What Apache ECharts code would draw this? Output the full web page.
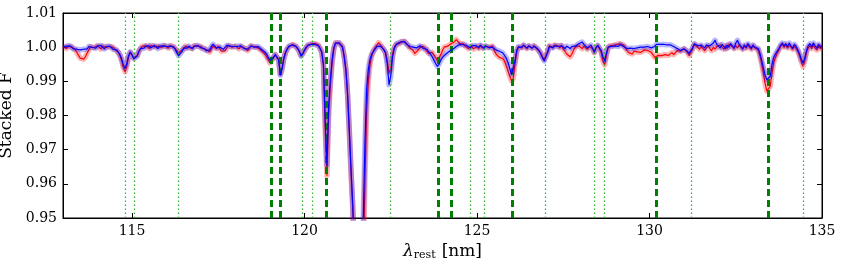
<!DOCTYPE html>
<html><head><meta charset="utf-8">
<script src="https://cdn.jsdelivr.net/npm/echarts@6/dist/echarts.min.js"></script>
<style>html,body{margin:0;padding:0;background:#fff}#c{width:843px;height:268px}</style>
</head><body><div id="c"></div>
<script>
// ---- data ----
const xTicks = [115, 120, 125, 130, 135];
const yTickLabels = ['0.95', '0.96', '0.97', '0.98', '0.99', '1.00', '1.01'];
const strongLines = [119.04, 119.31, 120.63, 123.87, 124.26, 126.03, 130.21, 133.45];
const weakLines = [114.80, 115.07, 116.35, 119.93, 120.23, 122.48, 124.81, 125.22, 126.98, 128.40, 128.70, 131.20, 134.46];
const waveStart = 113.0, waveStep = 0.05; // wavelength grid of the stacked spectra (nm)

const redFlux = [
 1.0003,1.0000,0.9996,1.0002,1.0006,1.0001,0.9997,0.9993,0.9985,0.9976,0.9968,0.9963,0.9965,0.9972,0.9983,0.9992,1.0001,1.0005,0.9999,0.9996,
 1.0004,1.0000,0.9995,1.0003,1.0007,0.9999,0.9996,1.0002,1.0005,1.0000,0.9994,0.9990,0.9985,0.9975,0.9960,0.9940,0.9928,0.9945,0.9972,0.9984,
 0.9982,0.9970,0.9966,0.9975,0.9988,0.9996,1.0003,0.9998,1.0004,1.0000,0.9996,1.0005,1.0008,1.0001,0.9997,1.0003,1.0006,0.9999,1.0002,1.0005,
 1.0001,0.9997,1.0004,1.0009,1.0002,0.9998,0.9990,0.9982,0.9988,0.9992,0.9995,1.0003,1.0006,0.9999,1.0002,0.9996,1.0004,1.0000,1.0003,0.9998,
 1.0002,0.9996,1.0001,0.9993,0.9988,0.9986,0.9995,1.0003,1.0000,0.9996,1.0002,0.9994,0.9988,0.9984,0.9990,0.9998,1.0005,1.0007,1.0000,0.9996,
 1.0003,1.0000,0.9995,1.0002,1.0005,0.9998,0.9993,0.9990,0.9996,1.0004,1.0008,1.0001,0.9996,0.9998,0.9994,0.9990,0.9985,0.9980,0.9972,0.9963,
 0.9954,0.9957,0.9968,0.9978,0.9980,0.9965,0.9922,0.9940,0.9968,0.9985,0.9995,1.0001,1.0005,1.0008,1.0006,1.0003,0.9996,0.9988,0.9976,0.9980,
 0.9990,0.9998,1.0005,1.0004,1.0010,1.0013,1.0011,1.0012,1.0006,0.9998,0.9985,0.9945,0.9760,0.9625,0.9800,0.9890,0.9955,0.9995,1.0012,1.0015,
 1.0013,1.0011,1.0002,0.9975,0.9935,0.9860,0.9750,0.9630,0.9525,0.9350,0.9000,0.8800,0.8800,0.9000,0.9350,0.9600,0.9810,0.9900,0.9950,0.9975,
 0.9990,0.9998,1.0006,1.0013,1.0008,1.0000,0.9992,0.9985,0.9960,0.9925,0.9935,0.9978,0.9998,1.0008,1.0012,1.0010,1.0016,1.0020,1.0017,1.0012,
 1.0005,0.9998,1.0002,0.9990,0.9982,0.9980,0.9992,1.0000,1.0004,1.0002,0.9995,0.9988,0.9982,0.9978,0.9985,0.9980,0.9970,0.9962,0.9966,0.9978,
 0.9990,1.0000,1.0005,1.0003,1.0008,1.0010,1.0012,1.0016,1.0022,1.0018,1.0010,1.0006,1.0010,1.0004,1.0000,0.9996,0.9998,1.0002,0.9995,0.9998,
 1.0002,0.9996,1.0004,0.9998,0.9994,1.0002,1.0006,1.0000,0.9996,1.0003,0.9990,0.9980,0.9975,0.9970,0.9972,0.9966,0.9958,0.9945,0.9930,0.9915,
 0.9902,0.9908,0.9950,0.9985,1.0000,1.0004,0.9998,1.0005,1.0002,0.9996,1.0003,1.0006,0.9998,1.0004,1.0000,0.9994,0.9990,0.9982,0.9972,0.9965,
 0.9968,0.9988,1.0004,1.0008,1.0000,1.0006,1.0010,1.0004,0.9998,1.0005,0.9995,0.9988,0.9980,0.9975,0.9972,0.9980,0.9992,1.0000,0.9996,1.0004,
 1.0002,0.9996,1.0003,1.0000,0.9994,1.0001,1.0004,0.9996,0.9984,0.9998,1.0004,1.0000,0.9985,0.9960,0.9948,0.9975,0.9998,1.0004,1.0000,1.0005,
 1.0002,1.0008,1.0004,1.0010,1.0012,1.0006,0.9998,0.9990,0.9984,0.9986,0.9980,0.9988,0.9983,0.9986,0.9990,0.9985,0.9988,0.9992,0.9987,0.9990,
 0.9988,0.9985,0.9978,0.9970,0.9972,0.9976,0.9978,0.9975,0.9980,0.9978,0.9982,0.9976,0.9980,0.9984,0.9978,0.9982,0.9990,0.9994,0.9988,0.9992,
 0.9995,0.9990,0.9985,0.9976,0.9974,0.9995,1.0008,1.0004,1.0000,0.9994,1.0002,0.9996,0.9990,0.9998,1.0004,0.9996,0.9990,1.0000,0.9994,1.0002,
 0.9998,1.0006,1.0002,0.9994,1.0004,0.9996,1.0008,1.0010,1.0002,0.9996,1.0004,0.9998,1.0006,1.0000,0.9994,1.0003,0.9997,1.0005,1.0000,0.9994,
 1.0004,0.9998,1.0002,0.9992,0.9975,0.9952,0.9925,0.9895,0.9872,0.9868,0.9885,0.9925,0.9955,0.9970,0.9982,0.9992,1.0002,1.0008,1.0000,1.0006,
 0.9998,1.0005,1.0000,0.9994,1.0003,0.9996,0.9988,0.9975,0.9958,0.9944,0.9960,0.9985,0.9998,1.0004,0.9996,1.0006,0.9998,0.9992,1.0004,0.9996,
 1.0000
];

const blueFlux = [
 1.0001,0.9996,1.0003,0.9998,1.0004,1.0000,0.9995,0.9999,0.9994,0.9990,0.9992,0.9988,0.9994,0.9998,0.9995,1.0002,1.0005,0.9999,1.0003,0.9997,
 1.0003,0.9998,1.0005,1.0000,0.9995,1.0002,0.9997,1.0003,0.9999,0.9994,0.9990,0.9992,0.9986,0.9978,0.9966,0.9948,0.9938,0.9952,0.9975,0.9986,
 0.9978,0.9966,0.9964,0.9974,0.9988,0.9996,1.0001,0.9997,1.0003,1.0000,1.0004,0.9998,1.0002,1.0005,1.0000,0.9996,1.0003,1.0000,1.0004,0.9999,
 1.0002,0.9998,1.0003,1.0006,1.0000,0.9994,0.9984,0.9975,0.9978,0.9988,0.9998,1.0002,0.9997,1.0003,1.0000,0.9996,1.0002,0.9999,1.0005,1.0001,
 0.9998,1.0003,0.9996,0.9990,0.9986,0.9992,1.0002,1.0008,1.0004,0.9998,1.0003,1.0000,0.9996,0.9994,0.9998,1.0005,1.0008,1.0003,0.9998,1.0002,
 1.0006,1.0002,0.9998,1.0004,1.0001,0.9996,1.0000,0.9995,0.9999,1.0003,1.0006,1.0000,0.9998,1.0002,0.9997,0.9994,0.9990,0.9986,0.9980,0.9970,
 0.9962,0.9962,0.9970,0.9978,0.9976,0.9962,0.9918,0.9936,0.9966,0.9984,0.9995,1.0003,1.0008,1.0006,1.0004,1.0002,0.9996,0.9988,0.9974,0.9980,
 0.9992,1.0000,1.0006,1.0002,1.0008,1.0012,1.0008,1.0010,1.0004,0.9996,0.9986,0.9948,0.9790,0.9655,0.9830,0.9905,0.9962,0.9998,1.0012,1.0014,
 1.0012,1.0010,1.0000,0.9972,0.9932,0.9860,0.9755,0.9640,0.9535,0.9380,0.9050,0.8800,0.8800,0.9100,0.9480,0.9710,0.9875,0.9935,0.9965,0.9980,
 0.9985,0.9995,1.0002,1.0005,1.0003,0.9998,0.9993,0.9982,0.9950,0.9890,0.9915,0.9970,0.9996,1.0006,1.0012,1.0010,1.0015,1.0018,1.0016,1.0010,
 1.0006,1.0002,1.0004,1.0000,1.0003,0.9998,1.0002,1.0004,1.0000,0.9996,1.0000,0.9994,0.9986,0.9980,0.9972,0.9962,0.9952,0.9944,0.9950,0.9962,
 0.9970,0.9975,0.9980,0.9985,0.9988,0.9992,0.9994,0.9998,1.0002,1.0006,1.0008,1.0005,1.0007,1.0002,1.0005,1.0001,0.9998,1.0004,1.0002,1.0005,
 1.0004,1.0000,1.0006,1.0001,0.9997,1.0004,1.0002,0.9998,1.0003,1.0000,0.9996,0.9992,0.9990,0.9988,0.9985,0.9983,0.9978,0.9968,0.9955,0.9938,
 0.9920,0.9922,0.9960,0.9990,1.0001,1.0005,1.0000,1.0006,1.0003,0.9998,1.0004,1.0002,0.9997,1.0003,0.9999,0.9996,0.9990,0.9980,0.9968,0.9960,
 0.9960,0.9985,1.0002,1.0006,0.9998,1.0004,1.0008,1.0002,0.9997,1.0004,1.0000,0.9996,1.0003,1.0000,0.9996,1.0002,1.0006,1.0003,1.0008,1.0010,
 1.0010,1.0015,1.0008,1.0004,0.9998,1.0003,1.0006,0.9997,0.9986,0.9999,1.0005,1.0002,0.9990,0.9972,0.9960,0.9982,1.0000,1.0005,1.0002,1.0006,
 1.0004,1.0006,1.0002,1.0008,1.0006,1.0002,1.0000,0.9996,0.9994,0.9997,0.9992,0.9996,0.9994,0.9998,0.9996,1.0000,1.0003,1.0000,1.0004,1.0002,
 1.0002,0.9998,1.0000,1.0002,1.0008,1.0010,1.0008,1.0006,1.0008,1.0006,1.0007,1.0005,1.0007,1.0004,1.0002,1.0000,0.9996,0.9994,0.9990,0.9993,
 0.9995,0.9992,0.9988,0.9982,0.9980,0.9998,1.0010,1.0008,1.0004,1.0000,1.0006,1.0002,0.9998,1.0006,1.0010,1.0004,1.0000,1.0012,1.0020,1.0008,
 1.0004,0.9998,1.0008,1.0002,0.9996,1.0006,1.0000,1.0010,1.0004,0.9998,1.0012,1.0020,1.0008,1.0002,0.9996,1.0006,1.0000,1.0010,1.0004,0.9998,
 1.0006,1.0000,1.0004,0.9996,0.9982,0.9962,0.9940,0.9918,0.9905,0.9902,0.9915,0.9948,0.9970,0.9980,0.9988,0.9996,1.0006,1.0012,1.0004,1.0010,
 1.0002,1.0012,1.0004,0.9998,1.0008,1.0002,0.9992,0.9980,0.9965,0.9954,0.9968,0.9990,1.0004,1.0010,1.0002,1.0012,1.0004,0.9998,1.0008,1.0002,
 1.0004
];

// ---- chart ----
const wave = redFlux.map((_, i) => +(waveStart + waveStep * i).toFixed(2));
const redData = wave.map((w, i) => [w, redFlux[i]]);
const blueData = wave.map((w, i) => [w, blueFlux[i]]);
const FONT = 'DejaVu Serif';
const yVals = yTickLabels.map(Number);

const chart = echarts.init(document.getElementById('c'), null, {renderer: 'canvas'});
const lineBase = {type: 'line', showSymbol: false, symbol: 'none', smooth: false, silent: true, animation: false, clip: true};

chart.setOption({
  backgroundColor: '#fff',
  animation: false,
  grid: {left: 63, right: 21, top: 13, bottom: 50, containLabel: false, outerBoundsMode: 'none',
    show: true, borderColor: '#000', borderWidth: 1, backgroundColor: 'transparent'},
  xAxis: [{
    type: 'value', min: 113, max: 135, position: 'bottom',
    axisLine: {show: true, onZero: false, lineStyle: {color: '#000', width: 1}},
    axisTick: {show: true, inside: true, length: 5, customValues: xTicks, lineStyle: {color: '#000'}},
    axisLabel: {show: true, customValues: xTicks, margin: 6, color: '#000', fontFamily: FONT, fontSize: 14},
    splitLine: {show: false},
    name: '{l|λ}{s|rest}{n|[nm]}', nameLocation: 'middle', nameGap: 19,
    nameTextStyle: {color: '#000', fontFamily: FONT, fontSize: 17, rich: {
      l: {fontFamily: FONT, fontStyle: 'italic', fontSize: 17, lineHeight: 18, verticalAlign: 'top', color: '#000'},
      s: {fontFamily: FONT, fontSize: 11, lineHeight: 18, verticalAlign: 'bottom', color: '#000', padding: [0, 6, 0, 0]},
      n: {fontFamily: FONT, fontSize: 17, lineHeight: 18, verticalAlign: 'top', color: '#000'}
    }}
  }, {
    type: 'value', min: 113, max: 135, position: 'top',
    axisLine: {show: true, onZero: false, lineStyle: {color: '#000', width: 1}},
    axisTick: {show: true, inside: true, length: 5, customValues: xTicks, lineStyle: {color: '#000'}},
    axisLabel: {show: false}, splitLine: {show: false}
  }],
  yAxis: [{
    type: 'value', min: 0.95, max: 1.01, interval: 0.01, position: 'left',
    axisLine: {show: true, onZero: false, lineStyle: {color: '#000', width: 1}},
    axisTick: {show: true, inside: true, length: 5, customValues: yVals, lineStyle: {color: '#000'}},
    axisLabel: {show: true, customValues: yVals, margin: 6, color: '#000', fontFamily: FONT, fontSize: 14,
      formatter: v => Number(v).toFixed(2)},
    splitLine: {show: false},
    name: 'Stacked F', nameLocation: 'middle', nameGap: 38,
    nameTextStyle: {color: '#000', fontFamily: FONT, fontSize: 17}
  }, {
    type: 'value', min: 0.95, max: 1.01, interval: 0.01, position: 'right',
    axisLine: {show: true, onZero: false, lineStyle: {color: '#000', width: 1}},
    axisTick: {show: true, inside: true, length: 5, customValues: yVals, lineStyle: {color: '#000'}},
    axisLabel: {show: false}, splitLine: {show: false}
  }],
  series: [
    Object.assign({}, lineBase, {name: 'red band', data: redData, z: 2,
      lineStyle: {color: '#ff0000', width: 5.5, opacity: 0.3, join: 'round'}}),
    Object.assign({}, lineBase, {name: 'red', data: redData, z: 3,
      lineStyle: {color: '#ff0000', width: 1.2, join: 'round'}}),
    Object.assign({}, lineBase, {name: 'blue band', data: blueData, z: 4,
      lineStyle: {color: '#0000ff', width: 5.5, opacity: 0.28, join: 'round'}}),
    Object.assign({}, lineBase, {name: 'blue', data: blueData, z: 5,
      lineStyle: {color: '#0000ff', width: 1.2, join: 'round'},
      markLine: {
        silent: true, symbol: 'none', animation: false, label: {show: false},
        data: strongLines.map(v => ({xAxis: v, lineStyle: {color: '#008000', width: 3, type: [7, 4]}}))
          .concat(weakLines.map(v => ({xAxis: v, lineStyle: {color: '#2db52d', width: 1.2, type: [1.5, 2.5]}})))
      }})
  ]
});
</script>
</body></html>
